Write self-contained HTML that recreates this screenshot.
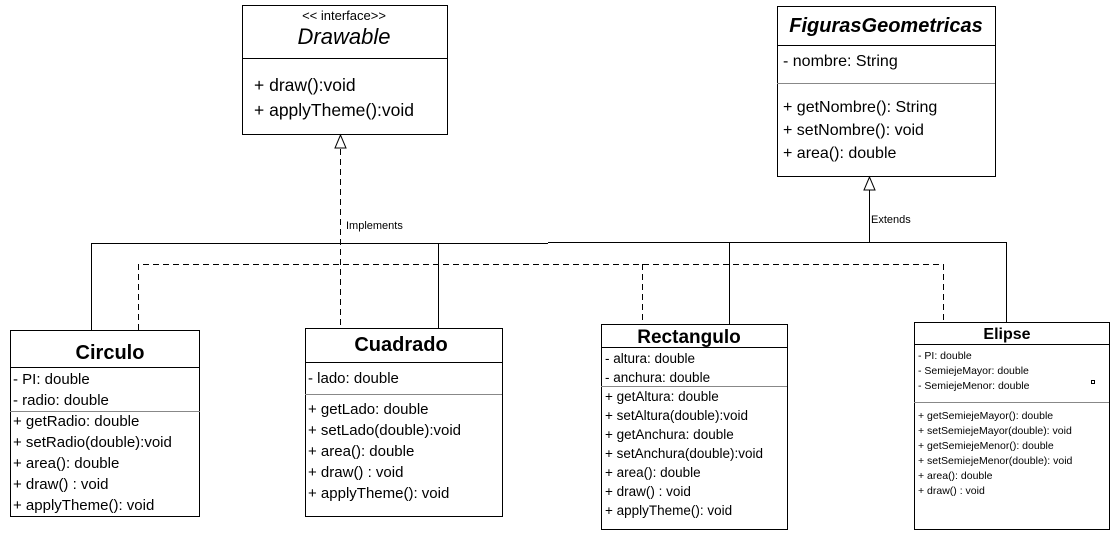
<!DOCTYPE html>
<html><head><meta charset="utf-8"><style>
html,body{margin:0;padding:0;background:#fff;width:1116px;height:535px;overflow:hidden}
svg{display:block}
text{font-family:"Liberation Sans",sans-serif;fill:#000}
</style></head><body>
<svg width="1116" height="535" viewBox="0 0 1116 535" xmlns="http://www.w3.org/2000/svg">
<g fill="#fff" stroke="#000" stroke-width="1">
<rect x="242.5" y="5.5" width="205" height="129"/>
<rect x="777.5" y="6.5" width="218" height="170"/>
<rect x="10.5" y="330.5" width="189" height="186"/>
<rect x="305.5" y="328.5" width="197" height="188"/>
<rect x="601.5" y="324.5" width="186" height="205"/>
<rect x="914.5" y="322.5" width="195" height="207"/>
</g>
<g stroke="#000" stroke-width="1">
<line x1="242" y1="58.5" x2="447" y2="58.5"/>
<line x1="777" y1="45.5" x2="995" y2="45.5"/>
<line x1="10" y1="367.5" x2="199" y2="367.5"/>
<line x1="305" y1="362.5" x2="502" y2="362.5"/>
<line x1="601" y1="347.5" x2="787" y2="347.5"/>
<line x1="914" y1="344.5" x2="1109" y2="344.5"/>
</g>
<g stroke="#888" stroke-width="1">
<line x1="777" y1="83.5" x2="995" y2="83.5"/>
<line x1="10" y1="411.5" x2="200" y2="411.5"/>
<line x1="305" y1="394.5" x2="502" y2="394.5"/>
<line x1="601" y1="386.5" x2="787" y2="386.5"/>
<line x1="914" y1="402.5" x2="1109" y2="402.5"/>
</g>
<g stroke="#000" stroke-width="1" fill="none">
<polyline points="91.5,330 91.5,243.5 548,243.5"/>
<line x1="548" y1="242.5" x2="1006.5" y2="242.5"/>
<line x1="1006.5" y1="242" x2="1006.5" y2="322"/>
<line x1="438.5" y1="243" x2="438.5" y2="328"/>
<line x1="729.5" y1="242" x2="729.5" y2="324"/>
<line x1="869.5" y1="190" x2="869.5" y2="242"/>
<polygon points="869.5,177 864,190 875,190" fill="#fff"/>
</g>
<g stroke="#000" stroke-width="1" fill="none" stroke-dasharray="6,4">
<polyline points="138.5,330 138.5,264.5 943.5,264.5 943.5,322"/>
<line x1="642.5" y1="264" x2="642.5" y2="324"/>
<line x1="340.5" y1="149" x2="340.5" y2="328"/>
</g>
<polygon points="340.5,135 335,148 346,148" fill="#fff" stroke="#000"/>
<text x="346" y="229" font-size="11">Implements</text>
<text x="871" y="223" font-size="11">Extends</text>

<text x="344" y="20" font-size="13" text-anchor="middle">&lt;&lt; interface&gt;&gt;</text>
<text x="344" y="44" font-size="22" font-style="italic" text-anchor="middle">Drawable</text>
<text x="254" y="91" font-size="17.5">+ draw():void</text>
<text x="254" y="116" font-size="17.5">+ applyTheme():void</text>

<text x="886" y="32" font-size="20" font-weight="bold" font-style="italic" text-anchor="middle">FigurasGeometricas</text>
<text x="783" y="66" font-size="16">- nombre: String</text>
<text x="783" y="112" font-size="16">+ getNombre(): String</text>
<text x="783" y="135" font-size="16">+ setNombre(): void</text>
<text x="783" y="158" font-size="16">+ area(): double</text>

<text x="110" y="359" font-size="20" font-weight="bold" text-anchor="middle">Circulo</text>
<g font-size="15">
<text x="13" y="384">- PI: double</text>
<text x="13" y="405">- radio: double</text>
<text x="13" y="426">+ getRadio: double</text>
<text x="13" y="447">+ setRadio(double):void</text>
<text x="13" y="468">+ area(): double</text>
<text x="13" y="489">+ draw() : void</text>
<text x="13" y="510">+ applyTheme(): void</text>
</g>

<text x="401" y="351" font-size="20" font-weight="bold" text-anchor="middle">Cuadrado</text>
<g font-size="15">
<text x="308" y="383">- lado: double</text>
<text x="308" y="414">+ getLado: double</text>
<text x="308" y="435">+ setLado(double):void</text>
<text x="308" y="456">+ area(): double</text>
<text x="308" y="477">+ draw() : void</text>
<text x="308" y="498">+ applyTheme(): void</text>
</g>

<text x="689" y="343" font-size="19" font-weight="bold" text-anchor="middle">Rectangulo</text>
<g font-size="13.5">
<text x="605" y="363">- altura: double</text>
<text x="605" y="382">- anchura: double</text>
<text x="605" y="401">+ getAltura: double</text>
<text x="605" y="420">+ setAltura(double):void</text>
<text x="605" y="439">+ getAnchura: double</text>
<text x="605" y="458">+ setAnchura(double):void</text>
<text x="605" y="477">+ area(): double</text>
<text x="605" y="496">+ draw() : void</text>
<text x="605" y="515">+ applyTheme(): void</text>
</g>

<text x="1007" y="339" font-size="16" font-weight="bold" text-anchor="middle">Elipse</text>
<g font-size="10.5">
<text x="918" y="359">- PI: double</text>
<text x="918" y="374">- SemiejeMayor: double</text>
<text x="918" y="389">- SemiejeMenor: double</text>
<text x="918" y="419">+ getSemiejeMayor(): double</text>
<text x="918" y="434">+ setSemiejeMayor(double): void</text>
<text x="918" y="449">+ getSemiejeMenor(): double</text>
<text x="918" y="464">+ setSemiejeMenor(double): void</text>
<text x="918" y="479">+ area(): double</text>
<text x="918" y="494">+ draw() : void</text>
</g>
<rect x="1091.5" y="380.5" width="3" height="3" fill="#fff" stroke="#000"/>
</svg>
</body></html>
